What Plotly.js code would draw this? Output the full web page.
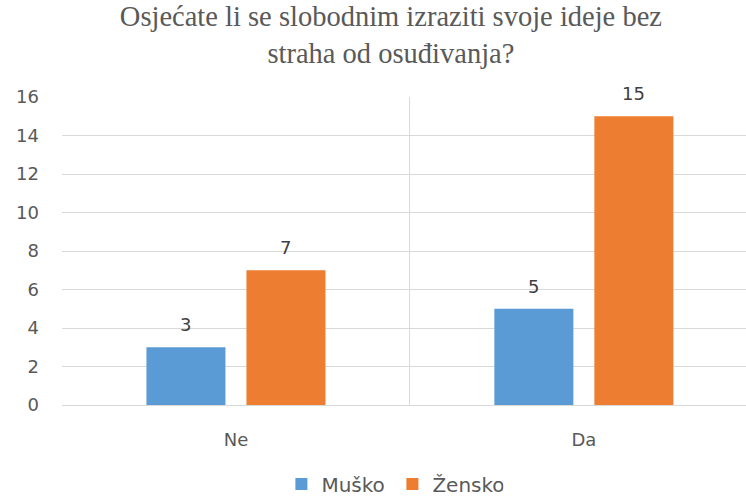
<!DOCTYPE html>
<html>
<head>
<meta charset="utf-8">
<script src="https://cdn.plot.ly/plotly-3.0.1.min.js"></script>
<style>html,body{margin:0;padding:0;overflow:hidden;background:#fff}</style>
</head>
<body>
<div id="chart" style="width:746px;height:497px"></div>
<script>
const categories = ["Ne", "Da"];
const seriesNames = ["Muško", "Žensko"];
const musko = [3, 5];
const zensko = [7, 15];
const yTicks = [0, 2, 4, 6, 8, 10, 12, 14, 16];
const titleText = "Osjećate li se slobodnim izraziti svoje ideje bez<br>straha od osuđivanja?";

const sans = "DejaVu Sans, Liberation Sans, sans-serif";
const colors = ["#5B9BD5", "#ED7D31"];
const seriesValues = [musko, zensko];

const data = seriesValues.map((vals, i) => ({
  type: "bar", name: seriesNames[i], x: categories, y: vals,
  marker: {color: colors[i]}, hoverinfo: "none"
}));

// value labels above each bar, placed through the axis scales
const annotations = [];
seriesValues.forEach((vals, i) => {
  vals.forEach((v, j) => {
    annotations.push({
      x: categories[j], y: v, xref: "x", yref: "y",
      text: String(v), showarrow: false,
      xshift: (i === 0 ? -50 : 50), yshift: 10, yanchor: "bottom",
      font: {family: sans, size: 18, color: "#404040"}
    });
  });
});

const layout = {
  width: 746, height: 497,
  margin: {l: 62, r: 0, t: 97, b: 92, pad: 0},
  paper_bgcolor: "#fff", plot_bgcolor: "#fff",
  title: {text: titleText, font: {family: "Liberation Serif, Times New Roman, serif", size: 28.5, color: "#595959"},
          xref: "container", x: 0.524, xanchor: "center", yref: "container", y: 0.948, yanchor: "top"},
  barmode: "group", bargap: 0.425, bargroupgap: 0.21,
  annotations: annotations,
  xaxis: {range: [-0.5, 1.466], tickson: "boundaries", showgrid: true, gridcolor: "#d9d9d9", gridwidth: 1,
          ticks: "", showline: false, ticklabelstandoff: 22,
          tickfont: {family: sans, size: 18, color: "#595959"}, fixedrange: true},
  yaxis: {range: [0, 16], tickvals: yTicks, showgrid: true, gridcolor: "#d9d9d9", gridwidth: 1,
          zeroline: true, zerolinecolor: "#d9d9d9", zerolinewidth: 1, ticks: "", ticklabelstandoff: 22,
          tickfont: {family: sans, size: 18, color: "#595959"}, fixedrange: true},
  showlegend: true,
  legend: {orientation: "h", xref: "container", x: 0.526, xanchor: "center",
           yref: "container", y: 0.026, yanchor: "middle",
           font: {family: sans, size: 20, color: "#595959"}, traceorder: "normal", entrywidth: 66}
};

Plotly.newPlot("chart", data, layout, {displayModeBar: false, staticPlot: true});
</script>
</body>
</html>
